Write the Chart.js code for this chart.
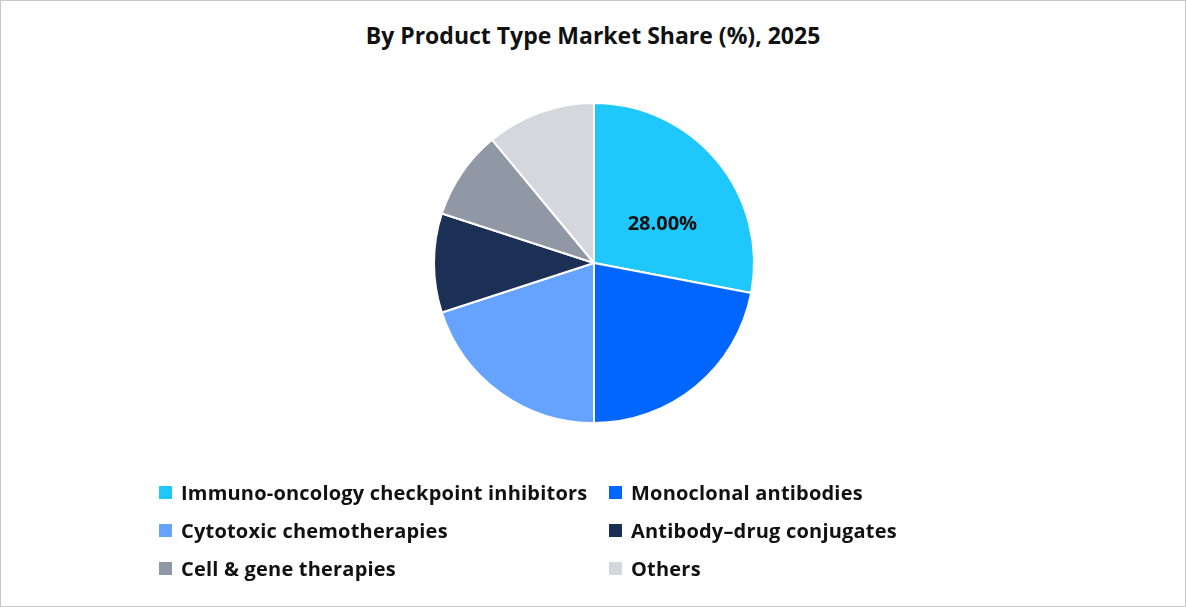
<!DOCTYPE html>
<html lang="en">
<head>
  <meta charset="UTF-8">
  <title>By Product Type Market Share (%), 2025</title>
  <script src="https://cdn.jsdelivr.net/npm/chart.js"></script>
  <style>
    body { margin: 0; font-family: "Open Sans", Arial, sans-serif; }
    #wrap { position: relative; width: 1184px; height: 605px; border: 1px solid #c8c8c8; background: #fff; }
    #title { position: absolute; top: 18px; width: 100%; text-align: center; font-weight: bold; font-size: 23px; color: #111; }
    #chart { position: absolute; left: 0; top: 0; }
    .leg { position: absolute; font-size: 20px; font-weight: bold; color: #111; display: flex; align-items: center; white-space: nowrap; letter-spacing: 0.2px; }
    .leg span { display: inline-block; width: 13px; height: 13px; margin-right: 9px; }
  </style>
</head>
<body>
  <div id="wrap">
    <div id="title">By Product Type Market Share (%), 2025</div>
    <canvas id="chart" width="1184" height="605"></canvas>
    <div id="legend"></div>
  </div>

  <script>
    const categorias = ['Immuno-oncology checkpoint inhibitors', 'Monoclonal antibodies', 'Cytotoxic chemotherapies',
                        'Antibody\u2013drug conjugates', 'Cell & gene therapies', 'Others'];
    const valores = [28, 22, 20, 10, 9, 11];
    const colores = ['#1ec8fc', '#0066ff', '#66a3ff', '#1c2f55', '#9198a5', '#d6d7dc'];

    // leyenda en dos columnas
    const legend = document.getElementById('legend');
    categorias.forEach((c, i) => {
      const d = document.createElement('div');
      d.className = 'leg';
      d.style.left = (i % 2 === 0 ? 158 : 608) + 'px';
      d.style.top = (478 + Math.floor(i / 2) * 38) + 'px';
      d.innerHTML = `<span style="background:${colores[i]}"></span>${c.replace('&', '&amp;')}`;
      legend.appendChild(d);
    });

    const etiqueta = {
      id: 'etiqueta',
      afterDatasetsDraw(chart) {
        const arc = chart.getDatasetMeta(0).data[0];
        const mid = (arc.startAngle + arc.endAngle) / 2 + 0.18;
        const r = arc.outerRadius * 0.49;
        const ctx = chart.ctx;
        ctx.save();
        ctx.font = 'bold 20px "Open Sans"';
        ctx.fillStyle = '#111';
        ctx.textAlign = 'center';
        ctx.textBaseline = 'middle';
        ctx.fillText(valores[0].toFixed(2) + '%', arc.x + Math.cos(mid) * r, arc.y + Math.sin(mid) * r);
        ctx.restore();
      }
    };

    new Chart(document.getElementById('chart'), {
      type: 'pie',
      data: {
        labels: categorias,
        datasets: [{ data: valores, backgroundColor: colores, borderColor: '#fff', borderWidth: 2 }]
      },
      options: {
        responsive: false,
        animation: false,
        layout: { padding: { top: 101, bottom: 182, left: 2, right: 0 } },
        plugins: { legend: { display: false }, tooltip: { enabled: false } }
      },
      plugins: [etiqueta]
    });
  </script>
</body>
</html>
